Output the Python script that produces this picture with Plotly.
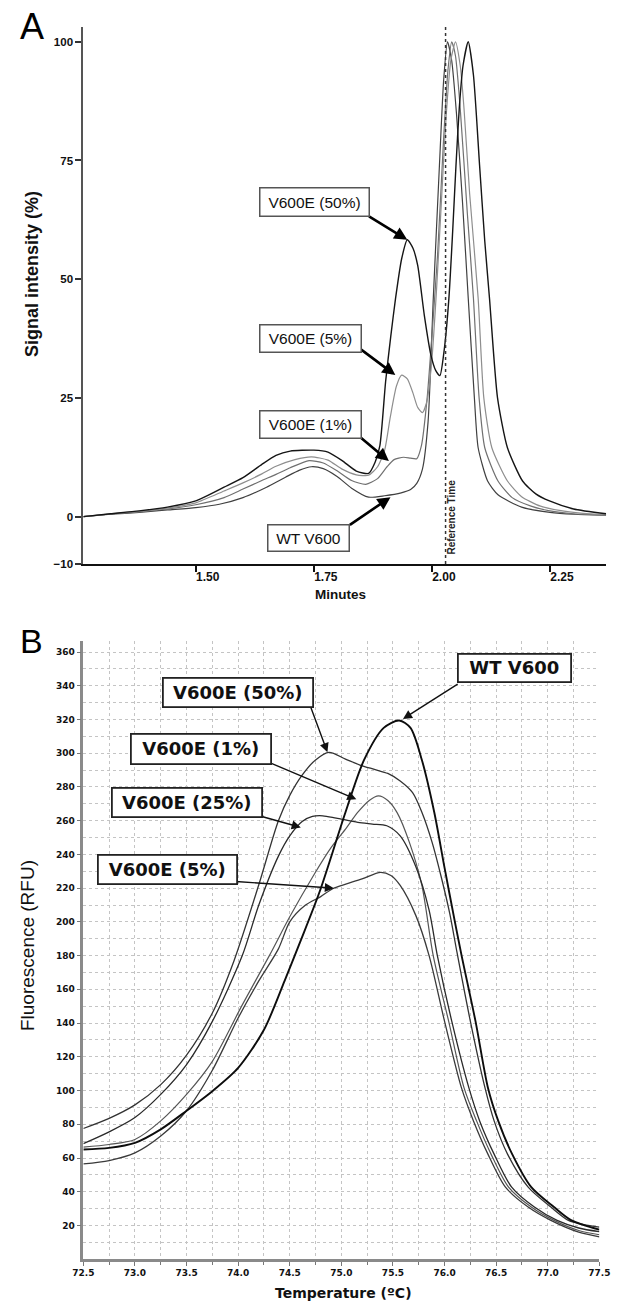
import plotly.graph_objects as go

# ---------------- Panel A data (chromatogram) ----------------
a_wt_x = [1.262, 1.32, 1.38, 1.44, 1.50, 1.55, 1.60, 1.65, 1.69, 1.72, 1.745, 1.77, 1.80, 1.83, 1.866, 1.90, 1.935,
          1.955, 1.968, 1.98, 1.992, 2.003, 2.016, 2.025, 2.033, 2.042, 2.052, 2.065, 2.077, 2.09, 2.098, 2.118,
          2.14, 2.19, 2.25, 2.30, 2.369]
a_wt_y = [0, 0.5, 0.9, 1.4, 1.9, 2.6, 4.0, 6.2, 8.3, 9.8, 10.5, 10.1, 8.4, 6.0, 4.1, 4.4, 5.0,
          5.7, 7.0, 10.0, 20.0, 46.0, 74.0, 92.0, 100.0, 96.0, 85.0, 66.0, 46.0, 25.0, 14.5, 7.5,
          4.6, 2.0, 0.9, 0.5, 0.3]

a_1_x = [1.262, 1.32, 1.38, 1.44, 1.50, 1.56, 1.60, 1.64, 1.67, 1.70, 1.74, 1.77, 1.80, 1.83, 1.86, 1.885, 1.905,
         1.92, 1.94, 1.955, 1.968, 1.978, 1.99, 2.0, 2.012, 2.024, 2.034, 2.042, 2.05, 2.06, 2.075, 2.088, 2.10,
         2.112, 2.14, 2.17, 2.21, 2.25, 2.30, 2.369]
a_1_y = [0, 0.55, 1.0, 1.6, 2.5, 4.0, 5.8, 7.6, 8.9, 10.3, 11.8, 11.3, 9.6, 7.6, 6.8, 8.0, 10.5,
         12.0, 12.5, 12.3, 12.2, 15.0, 25.0, 38.0, 55.0, 78.0, 94.0, 100.0, 97.0, 86.0, 64.0, 46.0, 25.0,
         14.5, 7.5, 4.0, 2.2, 1.2, 0.6, 0.3]

a_5_x = [1.262, 1.32, 1.38, 1.44, 1.50, 1.56, 1.60, 1.64, 1.67, 1.71, 1.745, 1.78, 1.81, 1.84, 1.866, 1.885, 1.90,
         1.912, 1.925, 1.936, 1.948, 1.96, 1.97, 1.98, 1.99, 2.0, 2.01, 2.02, 2.03, 2.04, 2.05, 2.06, 2.068,
         2.08, 2.098, 2.11, 2.127, 2.16, 2.19, 2.23, 2.27, 2.32, 2.369]
a_5_y = [0, 0.6, 1.1, 1.8, 2.9, 5.4, 7.1, 9.0, 10.6, 12.0, 12.6, 11.9, 10.0, 8.8, 8.7, 10.5, 14.0,
         21.0, 27.5, 29.8, 29.0, 26.0, 23.0, 21.9, 24.5, 33.0, 48.0, 66.0, 84.0, 96.0, 100.0, 95.0, 86.0,
         68.0, 46.0, 25.0, 14.5, 7.5, 4.2, 2.2, 1.3, 0.7, 0.4]

a_50_x = [1.262, 1.32, 1.38, 1.44, 1.50, 1.56, 1.60, 1.64, 1.67, 1.70, 1.75, 1.78, 1.81, 1.84, 1.866, 1.88, 1.89,
          1.902, 1.913, 1.923, 1.936, 1.948, 1.96, 1.970, 1.984, 1.998, 2.008, 2.017, 2.026, 2.036, 2.044, 2.051,
          2.058, 2.066, 2.077, 2.088, 2.101, 2.112, 2.122, 2.139, 2.16, 2.192, 2.22, 2.249, 2.30, 2.369]
a_50_y = [0, 0.6, 1.2, 2.0, 3.3, 6.2, 8.2, 11.0, 12.9, 13.8, 14.0, 13.6, 11.8, 9.6, 9.1, 11.5, 15.0,
          28.4, 38.0, 45.9, 54.3, 58.3, 56.5, 52.9, 42.4, 34.0, 30.8, 29.7, 35.0, 45.9, 60.0, 73.9,
          86.0, 95.0, 100.0, 93.0, 74.0, 58.0, 46.0, 25.0, 14.5, 7.5, 4.8, 3.3, 1.6, 0.6]

a_ref_time = 2.029
a_x_ticks = [1.50, 1.75, 2.00, 2.25]
a_x_ticktext = ["1.50", "1.75", "2.00", "2.25"]
a_y_ticks = [-10, 0, 25, 50, 75, 100]

# ---------------- Panel B data (melting curves) ----------------
b_50_x = [72.5, 72.75, 73.0, 73.25, 73.5, 73.75, 73.96, 74.2, 74.39, 74.5, 74.62, 74.75, 74.88, 75.04, 75.18,
          75.32, 75.45, 75.57, 75.69, 75.78, 75.88, 75.97, 76.05, 76.12, 76.25, 76.39, 76.48, 76.61, 76.81, 77.03,
          77.2, 77.35, 77.5]
b_50_y = [77.5, 83.5, 91.5, 103.5, 121, 146, 177, 222, 260, 275, 287, 296, 300.5, 296.5, 293,
          290.4, 288, 283.5, 276.6, 265, 247, 226, 205, 182, 141, 102, 82, 62.3, 42.7, 30.9,
          23, 20.5, 19]

b_25_x = [72.5, 72.75, 73.0, 73.25, 73.5, 73.75, 74.04, 74.2, 74.39, 74.5, 74.62, 74.72, 74.82, 74.95, 75.16,
          75.3, 75.44, 75.57, 75.72, 75.85, 75.93, 76.07, 76.235, 76.34, 76.48, 76.65, 76.87, 77.09, 77.3, 77.5]
b_25_y = [68.5, 75.5, 84, 97.7, 115.4, 141, 180, 210, 239, 251, 259.5, 262.5, 262.9, 261.5, 259,
          258, 257, 251, 233, 207, 180, 141, 101.7, 82, 62.3, 42.7, 30.9, 23, 18.5, 16.3]

b_1_x = [72.5, 72.75, 73.0, 73.25, 73.5, 73.75, 74.04, 74.305, 74.5, 74.73, 74.9, 75.04, 75.16, 75.27, 75.36,
         75.45, 75.54, 75.66, 75.78, 75.89, 76.04, 76.188, 76.31, 76.45, 76.62, 76.84, 77.06, 77.3, 77.5]
b_1_y = [66.5, 68.0, 71.0, 82.0, 97.7, 117.3, 150.8, 180.3, 203, 227.5, 244, 255, 265, 272, 274.7,
         272, 264.8, 247, 221.6, 180, 141, 101.7, 82, 62.3, 42.7, 30.9, 23, 17, 14.5]

b_5_x = [72.5, 72.75, 73.0, 73.25, 73.5, 73.75, 74.0, 74.2, 74.39, 74.5, 74.65, 74.8, 74.92, 75.05, 75.2,
         75.38, 75.48, 75.57, 75.72, 75.85, 76.0, 76.163, 76.28, 76.42, 76.59, 76.81, 77.03, 77.3, 77.5]
b_5_y = [56.5, 58.5, 63.0, 73.0, 88.0, 112, 143, 165, 184, 200, 209.8, 215, 219.8, 222.5, 225.5,
         229.4, 227.5, 221.6, 204, 180, 141, 101.7, 82, 62.3, 42.7, 30.9, 23, 16, 13.3]

b_wt_x = [72.5, 72.75, 73.0, 73.25, 73.5, 73.75, 74.0, 74.25, 74.45, 74.6, 74.79, 75.04, 75.22, 75.41, 75.56,
          75.67, 75.78, 75.9, 76.0, 76.1, 76.165, 76.3, 76.42, 76.52, 76.655, 76.84, 77.06, 77.23, 77.5]
b_wt_y = [65.0, 66.0, 69.0, 77.0, 88.0, 99.6, 113.4, 136, 165, 188, 218, 265, 296, 315, 319.4,
          315, 296, 265, 232, 200, 180, 141, 101.7, 82, 62.3, 42.7, 30.9, 23, 17.5]

b_x_ticks = [72.5, 73.0, 73.5, 74.0, 74.5, 75.0, 75.5, 76.0, 76.5, 77.0, 77.5]
b_y_ticks = [20, 40, 60, 80, 100, 120, 140, 160, 180, 200, 220, 240, 260, 280, 300, 320, 340, 360]

# ---------------- Callout labels ----------------
# (text, box centre x, box centre y, box w, box h, arrow tail x, tail y, arrow tip x, tip y)
a_labels = [
    ("V600E (50%)", 1.7507, 66.2, 108, 27, 1.8637, 63.4, 1.948, 58.3),
    ("V600E (5%)", 1.7425, 37.6, 100, 26, 1.8472, 35.4, 1.9226, 29.8),
    ("V600E (1%)", 1.7425, 19.5, 100, 26, 1.8472, 16.8, 1.9089, 11.7),
    ("WT V600", 1.7383, -4.6, 80, 25, 1.8232, -1.95, 1.9124, 4.1),
]
b_labels = [
    ("V600E (50%)", 73.994, 335.8, 148, 27, 74.70, 327.8, 74.865, 300.6),
    ("V600E (1%)", 73.642, 302.7, 138, 28, 74.296, 294.7, 75.145, 272.7),
    ("V600E (25%)", 73.506, 270.9, 148, 27, 74.206, 262.9, 74.607, 256.0),
    ("V600E (5%)", 73.314, 231.1, 137, 27, 73.963, 224.0, 74.928, 220.0),
    ("WT V600", 76.677, 350.6, 111, 26, 76.141, 341.5, 75.597, 320.3),
]

W, H = 621, 1309
A_FONT = "Liberation Sans, Arial, Helvetica, sans-serif"
B_FONT = "DejaVu Sans, Verdana, sans-serif"

fig = go.Figure()

# Panel A traces
a_series = [
    (a_wt_x, a_wt_y, "#404040", 1.2),
    (a_1_x, a_1_y, "#707070", 1.2),
    (a_5_x, a_5_y, "#8e8e8e", 1.2),
    (a_50_x, a_50_y, "#151515", 1.4),
]
for xs, ys, c, w in a_series:
    fig.add_trace(go.Scatter(x=xs, y=ys, mode="lines", line=dict(color=c, width=w, shape="spline", smoothing=0.6),
                             xaxis="x", yaxis="y", showlegend=False, hoverinfo="skip"))

# Panel B traces
b_series = [
    (b_5_x, b_5_y, "#3a3a3a", 1.3),
    (b_1_x, b_1_y, "#555555", 1.2),
    (b_25_x, b_25_y, "#2a2a2a", 1.3),
    (b_50_x, b_50_y, "#333333", 1.3),
    (b_wt_x, b_wt_y, "#0d0d0d", 1.9),
]
for xs, ys, c, w in b_series:
    fig.add_trace(go.Scatter(x=xs, y=ys, mode="lines", line=dict(color=c, width=w, shape="spline", smoothing=0.8),
                             xaxis="x2", yaxis="y2", showlegend=False, hoverinfo="skip"))

# reference time dotted line
fig.add_shape(type="line", xref="x", yref="y", x0=a_ref_time, x1=a_ref_time, y0=-10, y1=103.2,
              line=dict(color="#333333", width=1.5, dash="dot"))

annotations = []
annotations.append(dict(text="Reference Time", xref="x", yref="y", x=a_ref_time + 0.0135, y=0, textangle=-90,
                        showarrow=False, font=dict(family=A_FONT, size=10, color="#222", weight="bold")))

for t, bx, by, bw, bh, tx, ty, px, py in a_labels:
    annotations.append(dict(text="", xref="x", yref="y", x=px, y=py, axref="x", ayref="y", ax=tx, ay=ty,
                            showarrow=True, arrowhead=2, arrowsize=1.0, arrowwidth=2.6, arrowcolor="#000",
                            standoff=0, startstandoff=0))
    annotations.append(dict(text=t, xref="x", yref="y", x=bx, y=by, showarrow=False, width=bw, height=bh,
                            bgcolor="white", bordercolor="#555", borderwidth=1.5, borderpad=0,
                            xanchor="center", yanchor="middle",
                            font=dict(family=A_FONT, size=15.5, color="#111")))

for t, bx, by, bw, bh, tx, ty, px, py in b_labels:
    annotations.append(dict(text="", xref="x2", yref="y2", x=px, y=py, axref="x2", ayref="y2", ax=tx, ay=ty,
                            showarrow=True, arrowhead=2, arrowsize=1.3, arrowwidth=1.4, arrowcolor="#111",
                            standoff=0, startstandoff=0))
    annotations.append(dict(text=t, xref="x2", yref="y2", x=bx, y=by, showarrow=False, width=bw, height=bh,
                            bgcolor="white", bordercolor="#222", borderwidth=1.8, borderpad=0,
                            xanchor="center", yanchor="middle",
                            font=dict(family=B_FONT, size=18, color="#111", weight="bold")))

# panel letters and axis titles
annotations += [
    dict(text="A", xref="paper", yref="paper", x=22 / W, y=1 - 27 / H, showarrow=False,
         xanchor="center", yanchor="middle", font=dict(family=A_FONT, size=36, color="#000")),
    dict(text="B", xref="paper", yref="paper", x=21 / W, y=1 - 644 / H, showarrow=False,
         xanchor="center", yanchor="middle", font=dict(family=A_FONT, size=34, color="#000")),
    dict(text="Signal intensity (%)", xref="paper", yref="paper", x=22 / W, y=1 - 275 / H, textangle=-90,
         showarrow=False, xanchor="center", yanchor="middle",
         font=dict(family=A_FONT, size=18, color="#111", weight="bold")),
    dict(text="Minutes", xref="paper", yref="paper", x=342 / W, y=1 - 597 / H, showarrow=False,
         xanchor="center", yanchor="middle", font=dict(family=A_FONT, size=13.5, color="#111", weight="bold")),
    dict(text="Fluorescence (RFU)", xref="paper", yref="paper", x=17 / W, y=1 - 950 / H, textangle=-90,
         showarrow=False, xanchor="center", yanchor="middle", font=dict(family=A_FONT, size=19, color="#111")),
    dict(text="Temperature (ºC)", xref="paper", yref="paper", x=345 / W, y=1 - 1299 / H, showarrow=False,
         xanchor="center", yanchor="middle", font=dict(family=B_FONT, size=14, color="#111", weight="bold")),
]

grid = dict(gridcolor="#c4c4c4", gridwidth=1, griddash="dot")

fig.update_layout(
    width=W, height=H, autosize=False,
    margin=dict(l=0, r=0, t=0, b=0),
    paper_bgcolor="white", plot_bgcolor="white",
    annotations=annotations,
    xaxis=dict(domain=[75 / W, 617 / W], range=[1.262, 2.369], anchor="y",
               tickvals=a_x_ticks, ticktext=a_x_ticktext, ticks="outside", ticklen=6, tickwidth=1.5,
               tickcolor="#111", showgrid=False, zeroline=False, showline=True, linecolor="#111", linewidth=2,
               ticklabelshift=12, ticklabelstandoff=-6, ticklabeloverflow="allow",
               tickfont=dict(family=A_FONT, size=12, color="#111", weight="bold")),
    yaxis=dict(domain=[1 - 566.7 / H, 1 - 26.7 / H], range=[-10, 103.2], anchor="x",
               tickvals=a_y_ticks, ticks="outside", ticklen=6, tickwidth=1.5, tickcolor="#333",
               showgrid=False, zeroline=False, showline=True, linecolor="#555", linewidth=2,
               ticklabelstandoff=0,
               tickfont=dict(family=A_FONT, size=11.5, color="#111", weight="bold")),
    xaxis2=dict(domain=[75 / W, 610 / W], range=[72.5, 77.5], anchor="y2",
                tickvals=b_x_ticks, tickformat=".1f", ticks="outside", ticklen=4, tickcolor="#777",
                ticklabelstandoff=-1, ticklabeloverflow="allow",
                showgrid=True, **grid, zeroline=False, showline=True, linecolor="#8a8a8a", linewidth=2.5,
                minor=dict(dtick=0.25, tick0=72.5, showgrid=True, ticks="outside", ticklen=3, tickcolor="#777",
                           gridcolor="#c4c4c4", griddash="dot", gridwidth=1),
                tickfont=dict(family=B_FONT, size=9, color="#111", weight="bold")),
    yaxis2=dict(domain=[1 - 1265 / H, 1 - 644 / H], range=[0, 366.5], anchor="x2",
                tickvals=b_y_ticks, ticks="outside", ticklen=4, tickcolor="#777",
                showgrid=True, **grid, zeroline=False, showline=True, linecolor="#8a8a8a", linewidth=2.5,
                minor=dict(dtick=10, tick0=0, showgrid=True, gridcolor="#c4c4c4", griddash="dot", gridwidth=1),
                tickfont=dict(family=B_FONT, size=9, color="#111", weight="bold")),
)

fig.write_html("out.html", config={"displayModeBar": False},
               post_script="document.body.style.margin='0';document.body.style.overflow='hidden';")
